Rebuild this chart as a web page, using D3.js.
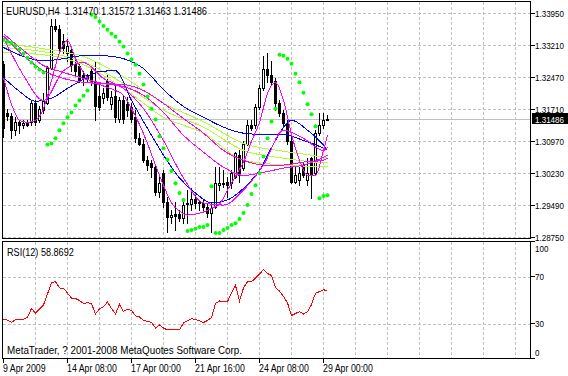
<!DOCTYPE html>
<html>
<head>
<meta charset="utf-8">
<script src="https://cdn.jsdelivr.net/npm/d3@7"></script>
<style>
body { margin: 0; background: #fff; }
svg { display: block; font-family: "Liberation Sans", Arial, sans-serif; }
</style>
</head>
<body>
<svg id="chart" width="568" height="376"></svg>
<script>
// EURUSD H4, bar 0 = 9 Apr 2009 16:00, last bar = 29 Apr 2009 04:00
const opens = [1.3277,1.3164,1.3157,1.3123,1.3141,1.3136,1.3139,1.3141,1.3187,1.3146,1.3169,1.3187,1.3268,1.3365,1.3358,1.3331,1.3303,1.3308,1.3277,1.3271,
  1.3252,1.3243,1.3261,1.3234,1.3203,1.3197,1.3238,1.3183,1.3203,1.3150,1.3192,1.3183,1.3176,1.3153,1.3104,1.3092,1.3053,1.3046,1.3037,1.2979,
  1.3023,1.2956,1.2921,1.2928,1.2928,1.2919,1.2951,1.2951,1.2963,1.2954,1.2954,1.2944,1.2931,1.2944,1.2995,1.3000,1.3002,1.3000,1.3014,1.3065,
  1.3035,1.3092,1.3134,1.3134,1.3176,1.3222,1.3266,1.3250,1.3238,1.3185,1.3162,1.3139,1.3099,1.3002,1.3007,1.3042,1.3007,1.3058,1.3023,1.3116,
  1.3134,1.31470];
const highs = [1.3284,1.3173,1.3162,1.3153,1.3146,1.3146,1.3146,1.3190,1.3194,1.3180,1.3210,1.3273,1.3382,1.3382,1.3368,1.3347,1.3335,1.3319,1.3289,1.3280,
  1.3261,1.3254,1.3273,1.3284,1.3234,1.3220,1.3252,1.3215,1.3227,1.3201,1.3203,1.3201,1.3185,1.3169,1.3116,1.3102,1.3062,1.3053,1.3042,1.3016,
  1.3030,1.2968,1.2937,1.2956,1.2937,1.2956,1.2984,1.2988,1.2972,1.2961,1.2961,1.2954,1.2954,1.3037,1.3037,1.3030,1.3014,1.3030,1.3072,1.3076,
  1.3099,1.3146,1.3146,1.3183,1.3227,1.3296,1.3301,1.3284,1.3243,1.3192,1.3169,1.3146,1.3106,1.3042,1.3037,1.3049,1.3058,1.3060,1.3123,1.3164,
  1.3164,1.31572];
const lows = [1.3106,1.3146,1.3104,1.3111,1.3116,1.3129,1.3132,1.3136,1.3134,1.3141,1.3164,1.3183,1.3264,1.3354,1.3308,1.3303,1.3284,1.3261,1.3250,1.3234,
  1.3229,1.3234,1.3227,1.3146,1.3169,1.3185,1.3192,1.3173,1.3141,1.3143,1.3139,1.3157,1.3141,1.3095,1.3088,1.3049,1.3030,1.3014,1.2972,1.2968,
  1.2944,1.2887,1.2907,1.2891,1.2912,1.2907,1.2907,1.2937,1.2942,1.2937,1.2937,1.2921,1.2887,1.2942,1.2984,1.2991,1.2968,1.2988,1.3012,1.3002,
  1.3030,1.3088,1.3123,1.3129,1.3173,1.3217,1.3234,1.3227,1.3169,1.3157,1.3134,1.3092,1.3000,1.3000,1.2995,1.3014,1.2995,1.2965,1.3018,1.3111,
  1.3129,1.31463];
const closes = [1.3127,1.3155,1.3123,1.3141,1.3136,1.3139,1.3136,1.3185,1.3143,1.3173,1.3190,1.3268,1.3365,1.3358,1.3314,1.3314,1.3319,1.3275,1.3261,1.3240,
  1.3243,1.3250,1.3234,1.3180,1.3176,1.3210,1.3199,1.3201,1.3153,1.3192,1.3150,1.3169,1.3148,1.3104,1.3090,1.3053,1.3042,1.3037,1.2979,1.3000,
  1.2956,1.2921,1.2926,1.2924,1.2919,1.2949,1.2954,1.2963,1.2954,1.2956,1.2944,1.2931,1.2942,1.3000,1.3000,1.2998,1.2995,1.3023,1.3069,1.3018,
  1.3092,1.3134,1.3129,1.3176,1.3222,1.3266,1.3250,1.3234,1.3185,1.3162,1.3139,1.3099,1.3002,1.3018,1.3023,1.3018,1.3023,1.3018,1.3116,1.3134,
  1.3146,1.31486];

// parabolic SAR, one dot per bar
const sar = [1.3333,1.3328,1.3326,1.3319,1.3310,1.3301,1.3291,1.3280,1.3271,1.3264,1.3257,
  1.3090,1.3092,1.3104,1.3123,1.3139,1.3153,1.3164,1.3180,1.3192,1.3203,1.3215,
  1.3391,1.3386,1.3375,1.3365,1.3356,1.3347,1.3340,1.3328,1.3317,1.3301,1.3287,1.3275,1.3254,1.3229,1.3201,1.3173,1.3148,1.3109,1.3081,1.3055,1.3028,1.3000,1.2977,1.2961,
  1.2889,1.2891,1.2894,1.2898,1.2898,1.2903,
  1.2993,
  1.2884,1.2884,1.2891,1.2896,1.2903,1.2907,1.2917,1.2931,1.2949,1.2975,1.2995,1.3023,1.3062,1.3104,1.3143,1.3173,
  1.3298,1.3296,1.3289,1.3277,1.3254,1.3234,1.3210,1.3183,1.3160,1.3132,
  1.2965,1.2970,1.2972];

// RSI(12)
const rsi = [34.2,33.3,31.2,33.8,33.9,33.9,35.9,43.2,39.1,42.7,46.2,55.6,65.0,66.1,60.7,60.4,56.4,51.9,51.7,50.0,
  47.6,48.1,47.4,38.5,42.7,44.6,48.7,43.2,38.5,46.6,40.6,42.7,41.5,36.8,35.9,32.9,32.1,31.2,26.5,29.1,
  26.5,24.8,24.8,24.8,24.8,30.8,32.9,34.4,33.8,32.6,31.2,32.9,35.5,47.4,49.6,49.1,49.1,56.4,62.8,49.6,
  60.7,66.1,66.1,69.2,72.6,76.5,73.1,71.4,60.9,58.1,53.4,47.9,37.2,38.9,40.4,38.5,40.3,46.6,56.2,57.6,
  59.0,58.87];

// moving average lines, read at these bar numbers
const maBars2 = d3.range(0, 81, 2).concat([81]);
const maBars4 = d3.range(0, 81, 4).concat([81]);
const maBars5 = d3.range(0, 81, 5).concat([81]);
const maBars10 = d3.range(0, 81, 10).concat([81]);

const maMagenta1 = [1.3245,1.3183,1.3146,1.3141,1.3146,1.3173,1.3238,1.3303,1.3331,1.3289,1.3257,1.3234,1.3229,1.3222,1.3215,1.3204,1.3173,1.3136,1.3092,1.3042,
  1.2995,1.2954,1.2935,1.2926,1.2928,1.2933,1.2942,1.2951,1.2984,1.3016,1.3049,1.3097,1.3141,1.3208,1.3234,1.3192,1.3113,1.3053,1.3018,1.3018,1.3076,1.3111];
const maMagenta2 = [1.3338,1.3250,1.3192,1.3261,1.3280,1.3243,1.3220,1.3173,1.3099,1.3012,1.2954,1.2949,1.2984,1.3042,1.3123,1.3104,1.3076,1.3083];
const maMagenta3 = [1.3347,1.3308,1.3273,1.3257,1.3243,1.3231,1.3224,1.3204,1.3164,1.3111,1.3072,1.3037,1.3018,1.3025,1.3035,1.3042,1.3060,1.3065];
const maMagenta4 = [1.3342,1.3296,1.3261,1.3243,1.3234,1.3231,1.3229,1.3215,1.3185,1.3150,1.3116,1.3076,1.3053,1.3042,1.3042,1.3049,1.3053,1.3058];
const maBlue1 = [1.3315,1.3294,1.3284,1.3289,1.3296,1.3296,1.3289,1.3266,1.3217,1.3178,1.3153,1.3130,1.3116,1.3113,1.3113,1.3099,1.3081,1.3076];
const maBlue2 = [1.3245,1.3213,1.3190,1.3197,1.3220,1.3241,1.3259,1.3261,1.3192,1.3127,1.3065,1.3012,1.2977,1.2954,1.2961,1.2988,1.3030,1.3099,1.3146,1.3123,1.3088,1.3076];
const maGreen1 = [1.3324,1.3312,1.3294,1.3247,1.3185,1.3143,1.3092,1.3074,1.3060,1.3058];
const maGreen2 = [1.3315,1.3305,1.3282,1.3231,1.3169,1.3130,1.3076,1.3058,1.3048,1.3048];
const maGreen3 = [1.3303,1.3298,1.3275,1.3220,1.3153,1.3116,1.3053,1.3042,1.3039,1.3039];

const priceTicks = [1.3395,1.3321,1.3247,1.3171,1.3097,1.3023,1.2949,1.2875];
const rsiTicks = [100,70,30,0];
const timeTicks = [0,16,32,48,64,80];
const timeLabels = ['9 Apr 2009','14 Apr 08:00','17 Apr 00:00','21 Apr 16:00','24 Apr 08:00','29 Apr 00:00'];

const lastPrice = 1.31486;
const title = 'EURUSD,H4  1.31470 1.31572 1.31463 1.31486';
const rsiTitle = 'RSI(12) 58.8692';

// ---- scales
const x = d3.scaleLinear().domain([0, 132]).range([3, 531]);
const y = d3.scaleLinear().domain([1.2875, 1.3395]).range([237, 13]);
const yr = d3.scaleLinear().domain([0, 100]).range([359, 242]);
const px = i => Math.round(x(i));

const svg = d3.select('#chart');
const defs = svg.append('defs');
defs.append('clipPath').attr('id', 'clipMain')
  .append('rect').attr('x', 3).attr('y', 2).attr('width', 527).attr('height', 236);
defs.append('clipPath').attr('id', 'clipRsi')
  .append('rect').attr('x', 3).attr('y', 242).attr('width', 527).attr('height', 116);

const gridColor = '#c0c0c0';

// the terminal font is narrower, so squeeze text to a set width
function fitWidth(sel, w) {
  sel.attr('textLength', w).attr('lengthAdjust', 'spacingAndGlyphs');
}
function squeeze(sel, k) {
  sel.each(function() {
    const w = this.getComputedTextLength();
    d3.select(this).attr('textLength', w * k).attr('lengthAdjust', 'spacingAndGlyphs');
  });
}

// ---- grid
const gridX = d3.range(8, 132, 8);
svg.append('g').selectAll('line').data(gridX).enter().append('line')
  .attr('x1', d => px(d) + 0.5).attr('x2', d => px(d) + 0.5)
  .attr('y1', 2).attr('y2', 238)
  .attr('stroke', gridColor).attr('stroke-dasharray', '3,2');
svg.append('g').selectAll('line').data(gridX).enter().append('line')
  .attr('x1', d => px(d) + 0.5).attr('x2', d => px(d) + 0.5)
  .attr('y1', 242).attr('y2', 358)
  .attr('stroke', gridColor).attr('stroke-dasharray', '3,2');
svg.append('g').selectAll('line').data(priceTicks).enter().append('line')
  .attr('x1', 3).attr('x2', 530)
  .attr('y1', d => Math.round(y(d)) + 0.5).attr('y2', d => Math.round(y(d)) + 0.5)
  .attr('stroke', gridColor).attr('stroke-dasharray', '3,2');
svg.append('g').selectAll('line').data([70, 30]).enter().append('line')
  .attr('x1', 3).attr('x2', 530)
  .attr('y1', d => Math.round(yr(d)) + 0.5).attr('y2', d => Math.round(yr(d)) + 0.5)
  .attr('stroke', gridColor).attr('stroke-dasharray', '3,2');

// current price line
const lpY = Math.round(y(lastPrice)) + 0.5;
svg.append('line').attr('x1', 3).attr('x2', 530).attr('y1', lpY).attr('y2', lpY)
  .attr('stroke', gridColor);

// ---- candles
const bars = d3.range(opens.length);
const cg = svg.append('g').attr('clip-path', 'url(#clipMain)').attr('shape-rendering', 'crispEdges');
cg.selectAll('line').data(bars).enter().append('line')
  .attr('x1', i => px(i) + 0.5).attr('x2', i => px(i) + 0.5)
  .attr('y1', i => Math.round(y(highs[i])))
  .attr('y2', i => Math.round(y(lows[i])) + 1)
  .attr('stroke', '#000');
bars.forEach(i => {
  const o = opens[i], c = closes[i];
  const top = Math.round(y(Math.max(o, c)));
  const bot = Math.round(y(Math.min(o, c)));
  if (c > o && bot - top >= 2) {
    cg.append('rect').attr('x', px(i) - 0.5).attr('y', top + 0.5)
      .attr('width', 2).attr('height', bot - top)
      .attr('fill', '#fff').attr('stroke', '#000');
  } else {
    cg.append('rect').attr('x', px(i) - 1).attr('y', top)
      .attr('width', 3).attr('height', Math.max(bot - top + 1, 1))
      .attr('fill', '#000');
  }
});

// ---- moving averages
const lineGen = d3.line()
  .x(d => px(d[0]) + 0.5)
  .y(d => y(d[1]))
  .curve(d3.curveMonotoneX);
const maLines = [
  { bars: maBars10, vals: maGreen1, color: '#adff2f' },
  { bars: maBars10, vals: maGreen2, color: '#adff2f' },
  { bars: maBars10, vals: maGreen3, color: '#adff2f' },
  { bars: maBars5, vals: maBlue1, color: '#0000ff' },
  { bars: maBars4, vals: maBlue2, color: '#0000ff' },
  { bars: maBars5, vals: maMagenta4, color: '#ff00ff' },
  { bars: maBars5, vals: maMagenta3, color: '#ff00ff' },
  { bars: maBars5, vals: maMagenta2, color: '#ff00ff' },
  { bars: maBars2, vals: maMagenta1, color: '#ff00ff' }
];
const lg = svg.append('g').attr('clip-path', 'url(#clipMain)');
lg.selectAll('path').data(maLines).enter().append('path')
  .attr('d', d => lineGen(d.bars.map((b, k) => [b, d.vals[k]])))
  .attr('fill', 'none')
  .attr('stroke', d => d.color)
  .attr('stroke-width', 1)
  .attr('shape-rendering', 'crispEdges');

// ---- parabolic SAR
svg.append('g').attr('clip-path', 'url(#clipMain)')
  .selectAll('circle').data(bars).enter().append('circle')
  .attr('cx', i => px(i) + 0.5)
  .attr('cy', i => y(sar[i]))
  .attr('r', 2)
  .attr('fill', '#00ff00');

// ---- RSI
svg.append('path').attr('clip-path', 'url(#clipRsi)')
  .attr('d', d3.line().x(i => px(i) + 0.5).y(i => yr(rsi[i]))(bars))
  .attr('fill', 'none').attr('stroke', '#ff0000').attr('stroke-width', 1)
  .attr('shape-rendering', 'crispEdges');

// ---- frames and axes
const frame = svg.append('g').attr('fill', 'none').attr('stroke', '#000').attr('shape-rendering', 'crispEdges');
frame.append('rect').attr('x', 2.5).attr('y', 1.5).attr('width', 528).attr('height', 237);
frame.append('rect').attr('x', 2.5).attr('y', 241.5).attr('width', 528).attr('height', 117);

// right price ticks
svg.append('g').selectAll('line').data(priceTicks).enter().append('line')
  .attr('x1', 531).attr('x2', 535)
  .attr('y1', d => Math.round(y(d)) + 0.5).attr('y2', d => Math.round(y(d)) + 0.5)
  .attr('stroke', '#000');
const pLabels = svg.append('g').selectAll('text').data(priceTicks).enter().append('text')
  .attr('x', 535).attr('y', d => Math.round(y(d)) + 4)
  .attr('font-size', 9.5).attr('fill', '#000')
  .text(d3.format('.5f'));
fitWidth(pLabels, 29);

// last price box
svg.append('rect').attr('x', 532).attr('y', lpY - 6.5).attr('width', 36).attr('height', 11).attr('fill', '#000');
const lpText = svg.append('text').attr('x', 535).attr('y', lpY + 3.5)
  .attr('font-size', 9.5).attr('fill', '#fff').text(d3.format('.5f')(lastPrice));
fitWidth(lpText, 29);

// RSI ticks & labels
svg.append('g').selectAll('line').data(rsiTicks).enter().append('line')
  .attr('x1', 531).attr('x2', 535)
  .attr('y1', d => Math.round(yr(d)) - 0.5).attr('y2', d => Math.round(yr(d)) - 0.5)
  .attr('stroke', '#000');
const rLabels = svg.append('g').selectAll('text').data(rsiTicks).enter().append('text')
  .attr('x', 535)
  .attr('y', d => d === 100 ? 252 : d === 0 ? 356 : Math.round(yr(d)) + 3)
  .attr('font-size', 9.5).attr('fill', '#000')
  .text(d => d);
squeeze(rLabels, 0.85);

// time ticks & labels
svg.append('g').selectAll('line').data(timeTicks).enter().append('line')
  .attr('x1', d => px(d) + 0.5).attr('x2', d => px(d) + 0.5)
  .attr('y1', 359).attr('y2', 363)
  .attr('stroke', '#000');
const tLabels = svg.append('g').selectAll('text').data(timeTicks).enter().append('text')
  .attr('x', d => px(d))
  .attr('y', 372)
  .attr('font-size', 10).attr('fill', '#000')
  .text((d, k) => timeLabels[k]);
squeeze(tLabels, 0.88);

// titles
const t1 = svg.append('text').attr('x', 6).attr('y', 15).attr('font-size', 10)
  .attr('xml:space', 'preserve').text(title);
fitWidth(t1, 201);
const t2 = svg.append('text').attr('x', 7).attr('y', 256).attr('font-size', 10).text(rsiTitle);
squeeze(t2, 0.91);
const t3 = svg.append('text').attr('x', 7).attr('y', 354).attr('font-size', 10)
  .text('MetaTrader, ? 2001-2008 MetaQuotes Software Corp.');
fitWidth(t3, 235);
</script>
</body>
</html>
